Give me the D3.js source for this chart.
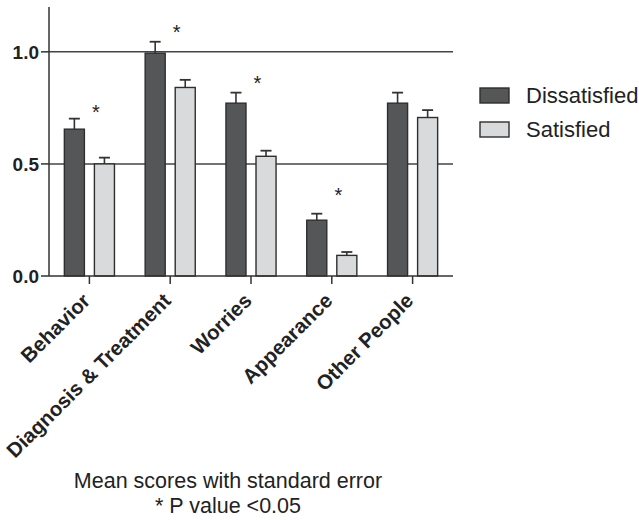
<!DOCTYPE html>
<html>
<head>
<meta charset="utf-8">
<script src="https://cdn.jsdelivr.net/npm/d3@7"></script>
<style>
  body { margin: 0; background: #fff; }
  text { font-family: "Liberation Sans", Arial, sans-serif; fill: #222; }
</style>
</head>
<body>
<div id="chart"></div>
<script>
// Data
const categories = ["Behavior", "Diagnosis & Treatment", "Worries", "Appearance", "Other People"];
const series = ["Dissatisfied", "Satisfied"];
const dissatisfied = [0.655, 0.994, 0.771, 0.249, 0.771];
const dissatisfiedErr = [0.047, 0.051, 0.047, 0.029, 0.047];
const satisfied = [0.500, 0.841, 0.534, 0.092, 0.707];
const satisfiedErr = [0.028, 0.034, 0.025, 0.015, 0.033];
const starCats = ["Behavior", "Diagnosis & Treatment", "Worries", "Appearance"];
const starLevels = [0.75, 1.11, 0.88, 0.38];
const yTicks = [0, 0.5, 1.0];
const gridLines = [0.5, 1.0];
const notes = ["Mean scores with standard error", "* P value <0.05"];

// Chart specs
const width = 639, height = 520;
const plotLeft = 49, plotRight = 453, plotTop = 7, plotBottom = 276;
const colors = {Dissatisfied: "#555658", Satisfied: "#d9dadb"};

const svg = d3.select("#chart")
  .append("svg")
  .attr("width", width)
  .attr("height", height);

let x = d3.scaleBand()
  .domain(categories)
  .range([plotLeft, plotRight]);

let xInner = d3.scaleBand()
  .domain(series)
  .range([x.bandwidth() * 0.19, x.bandwidth() * 0.81])
  .paddingInner(1 / 3);

let y = d3.scaleLinear()
  .domain([0, 1.2])
  .range([plotBottom, plotTop]);

// gridlines behind the bars
svg.selectAll(".grid")
  .data(gridLines)
  .enter()
  .append("line")
  .attr("x1", plotLeft)
  .attr("x2", plotRight)
  .attr("y1", d => y(d))
  .attr("y2", d => y(d))
  .style("stroke", "#444")
  .style("stroke-width", 1.5);

// flatten for bars
const rows = [];
categories.forEach((c, i) => {
  rows.push({cat: c, s: "Dissatisfied", v: dissatisfied[i], e: dissatisfiedErr[i]});
  rows.push({cat: c, s: "Satisfied", v: satisfied[i], e: satisfiedErr[i]});
});

// error bars
const err = svg.selectAll(".err")
  .data(rows)
  .enter()
  .append("g");
err.append("line")
  .attr("x1", d => x(d.cat) + xInner(d.s) + xInner.bandwidth() / 2)
  .attr("x2", d => x(d.cat) + xInner(d.s) + xInner.bandwidth() / 2)
  .attr("y1", d => y(d.v))
  .attr("y2", d => y(d.v + d.e))
  .style("stroke", "#333")
  .style("stroke-width", 1.6);
err.append("line")
  .attr("x1", d => x(d.cat) + xInner(d.s) + xInner.bandwidth() / 2 - 5.5)
  .attr("x2", d => x(d.cat) + xInner(d.s) + xInner.bandwidth() / 2 + 5.5)
  .attr("y1", d => y(d.v + d.e))
  .attr("y2", d => y(d.v + d.e))
  .style("stroke", "#333")
  .style("stroke-width", 1.8);

// bars
svg.selectAll(".bar")
  .data(rows)
  .enter()
  .append("rect")
  .attr("x", d => x(d.cat) + xInner(d.s))
  .attr("y", d => y(d.v))
  .attr("width", xInner.bandwidth())
  .attr("height", d => y(0) - y(d.v))
  .style("fill", d => colors[d.s])
  .style("stroke", "#2e2e2e")
  .style("stroke-width", 1.4);

// significance asterisks
svg.selectAll(".star")
  .data(starCats)
  .enter()
  .append("text")
  .attr("x", (d, i) => x(d) + xInner("Satisfied") + 1.5)
  .attr("y", (d, i) => y(starLevels[i]))
  .attr("dy", "0.58em")
  .attr("text-anchor", "middle")
  .style("font-size", "20px")
  .text("*");

// y axis
svg.append("line")
  .attr("x1", plotLeft).attr("x2", plotLeft)
  .attr("y1", plotTop).attr("y2", plotBottom)
  .style("stroke", "#333")
  .style("stroke-width", 1.5);
svg.selectAll(".ytick")
  .data(yTicks)
  .enter()
  .append("line")
  .attr("x1", plotLeft - 8)
  .attr("x2", plotLeft)
  .attr("y1", d => y(d))
  .attr("y2", d => y(d))
  .style("stroke", "#333")
  .style("stroke-width", 1.5);
svg.selectAll(".ylab")
  .data(yTicks)
  .enter()
  .append("text")
  .attr("x", plotLeft - 10)
  .attr("y", d => y(d))
  .attr("dy", "0.36em")
  .attr("text-anchor", "end")
  .style("font-size", "19px")
  .style("font-weight", "bold")
  .text(d => d.toFixed(1));

// x axis
svg.append("line")
  .attr("x1", plotLeft).attr("x2", plotRight)
  .attr("y1", plotBottom).attr("y2", plotBottom)
  .style("stroke", "#333")
  .style("stroke-width", 1.5);
svg.selectAll(".xtick")
  .data(categories)
  .enter()
  .append("line")
  .attr("x1", d => x(d) + x.bandwidth() / 2)
  .attr("x2", d => x(d) + x.bandwidth() / 2)
  .attr("y1", plotBottom)
  .attr("y2", plotBottom + 8)
  .style("stroke", "#333")
  .style("stroke-width", 1.5);
svg.selectAll(".xlab")
  .data(categories)
  .enter()
  .append("text")
  .attr("transform", d => "translate(" + (x(d) + x.bandwidth() / 2 + 2) + "," + (plotBottom + 26) + ") rotate(-45)")
  .attr("text-anchor", "end")
  .style("font-size", "20.5px")
  .style("font-weight", "bold")
  .text(d => d);

// legend
const legend = svg.selectAll(".legend")
  .data(series)
  .enter()
  .append("g")
  .attr("transform", (d, i) => "translate(480," + (88 + i * 34) + ")");
legend.append("rect")
  .attr("width", 29)
  .attr("height", 15)
  .style("fill", d => colors[d])
  .style("stroke", "#2e2e2e")
  .style("stroke-width", 1.4);
legend.append("text")
  .attr("x", 46)
  .attr("y", 15)
  .style("font-size", "22px")
  .text(d => d);

// footnotes
svg.selectAll(".note")
  .data(notes)
  .enter()
  .append("text")
  .attr("x", 228)
  .attr("y", (d, i) => 488 + i * 25)
  .attr("text-anchor", "middle")
  .style("font-size", "21.5px")
  .text(d => d);
</script>
</body>
</html>
